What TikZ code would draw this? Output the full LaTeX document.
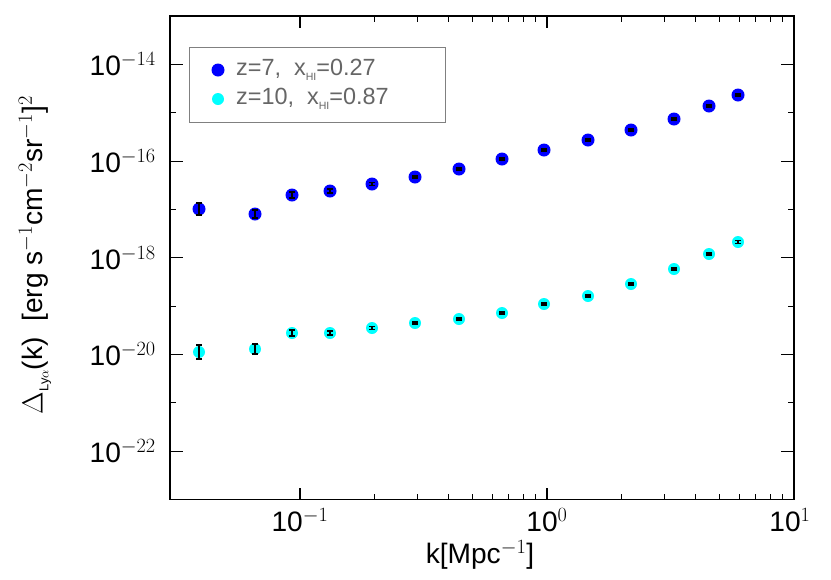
\documentclass[tikz,border=0pt]{standalone}
\usepackage{fontspec}
\setmainfont{Liberation Sans}
\definecolor{aqua}{RGB}{0,255,255}
\begin{document}
\begin{tikzpicture}[x=0.03cm,y=-0.03cm,
  bdot/.style={circle,fill=blue,inner sep=0pt,minimum size=0.39cm},
  cdot/.style={circle,fill=aqua,inner sep=0pt,minimum size=0.36cm},
  lab/.style={font=\fontsize{24}{26}\selectfont},
  err/.style={line width=1.2pt,black}]
\useasboundingbox (0,0) rectangle (831,579);
\fill[white] (0,0) rectangle (831,579);
% axes box
\draw[line width=0.9pt] (170,16) rectangle (794,499.5);
% x ticks
\foreach \e in {-2,-1,0}{
  \foreach \m in {1,...,9}{
    \pgfmathsetmacro{\px}{547+247*(\e+1+log10(\m))}
    \pgfmathparse{(\px>170.5)&&(\px<793.5)?1:0}
    \ifnum\pgfmathresult=1
      \ifnum\m=1
        \draw[line width=0.9pt] (\px,499.5) -- ++(0,-12) (\px,16) -- ++(0,12);
      \else
        \draw[line width=0.9pt] (\px,499.5) -- ++(0,-6) (\px,16) -- ++(0,6);
      \fi
    \fi
  }
}
% y ticks
\foreach \i in {1,...,9}{
  \pgfmathsetmacro{\py}{16+48.35*\i}
  \pgfmathparse{mod(\i,2)==1?1:0}
  \ifnum\pgfmathresult=1
    \draw[line width=0.9pt] (170,\py) -- ++(13,0) (794,\py) -- ++(-13,0);
  \else
    \draw[line width=0.9pt] (170,\py) -- ++(6,0) (794,\py) -- ++(-6,0);
  \fi
}
% y labels
\node[lab,anchor=east] (y14) at (160,64) {10$^{-14}$};
\node[lab,anchor=east] (y16) at (160,161) {10$^{-16}$};
\node[lab,anchor=east] (y18) at (160,258) {10$^{-18}$};
\node[lab,anchor=east] (y20) at (160,354) {10$^{-20}$};
\node[lab,anchor=east] (y22) at (160,451) {10$^{-22}$};
% x labels
\node[lab] (x1) at (300,520) {10$^{-1}$};
\node[lab] (x0) at (547,520) {10$^{0}$};
\node[lab] (x10) at (790,520) {10$^{1}$};
\node[lab] (xl) at (480,555) {k[Mpc$^{-1}$]};
\node[lab,rotate=90] (yl) at (35,255) {$\Delta$\raisebox{-0.4ex}{\fontsize{11}{11}\selectfont Ly$\alpha$}(k)\ \ [erg s$^{-1}$cm$^{-2}$sr$^{-1}$]$^2$};
% legend
\draw[line width=0.6pt,gray] (189,47) rectangle (445,122);
\node[bdot] (lb) at (218,70) {};
\node[cdot] (lc) at (218,99) {};
\node[anchor=west,gray!80!black,font=\fontsize{20}{22}\selectfont] (lt1) at (232,70) {z=7,\ \ x\raisebox{-0.4ex}{\fontsize{9}{9}\selectfont HI}=0.27};
\node[anchor=west,gray!80!black,font=\fontsize{20}{22}\selectfont] (lt2) at (232,99) {z=10,\ \ x\raisebox{-0.4ex}{\fontsize{9}{9}\selectfont HI}=0.87};
% data
\foreach \x/\y/\e [count=\n] in {199/209/6,255/214/4,292/195/3,330/191/2,372/184/1.5,415/177/1,459/169/1,502/159/1,544/150/1,588/140/1,631/130/1,674/119/1,709/106/1,738/95/1}{
  \node[bdot] (b\n) at (\x,\y) {};
  \draw[err] (\x,\y-\e) -- (\x,\y+\e) (\x-3,\y-\e) -- (\x+3,\y-\e) (\x-3,\y+\e) -- (\x+3,\y+\e);
}
\foreach \x/\y/\e [count=\n] in {199/352/7,255/349/5,292/333/3,330/333/2,372/328/1.5,415/323/1,459/319/1,502/313/1,544/304/1,588/296/1,631/284/1,674/269/1,709/254/1,738/242/1.5}{
  \node[cdot] (c\n) at (\x,\y) {};
  \draw[err] (\x,\y-\e) -- (\x,\y+\e) (\x-3,\y-\e) -- (\x+3,\y-\e) (\x-3,\y+\e) -- (\x+3,\y+\e);
}
\end{tikzpicture}
\end{document}
